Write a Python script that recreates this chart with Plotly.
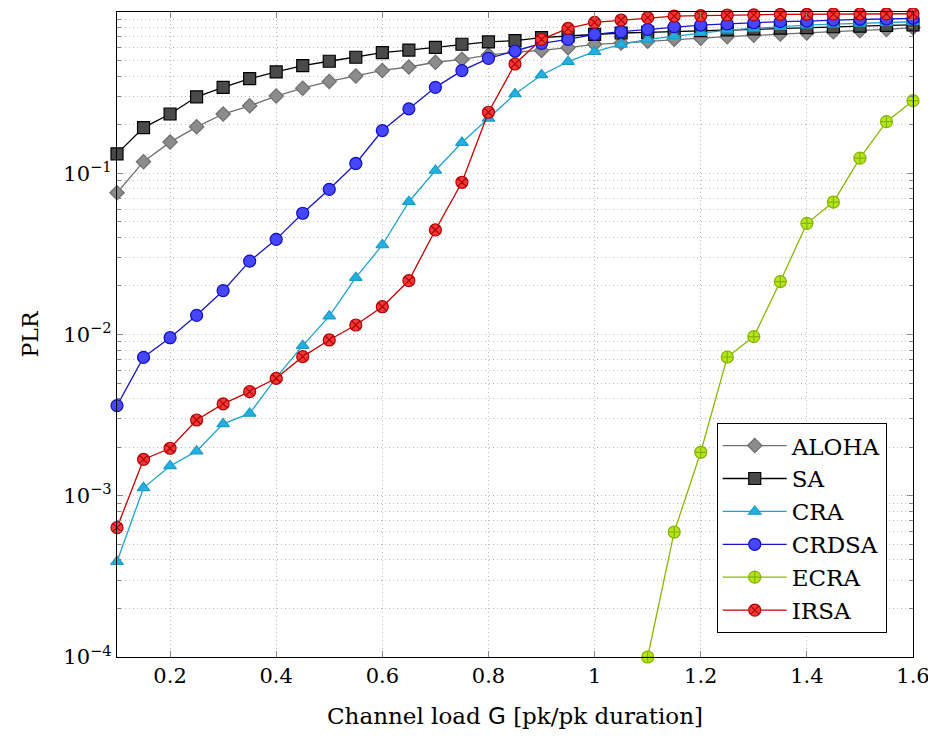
import plotly.graph_objects as go

G = [0.1, 0.15, 0.2, 0.25, 0.3, 0.35, 0.4, 0.45, 0.5, 0.55, 0.6, 0.65, 0.7, 0.75, 0.8,
     0.85, 0.9, 0.95, 1.0, 1.05, 1.1, 1.15, 1.2, 1.25, 1.3, 1.35, 1.4, 1.45, 1.5, 1.55, 1.6]

aloha = [0.0757, 0.118, 0.156, 0.194, 0.233, 0.262, 0.301, 0.337, 0.371, 0.401, 0.434, 0.456,
         0.488, 0.509, 0.541, 0.565, 0.578, 0.601, 0.630, 0.642, 0.658, 0.677, 0.688, 0.703,
         0.718, 0.730, 0.742, 0.755, 0.766, 0.780, 0.800]
sa = [0.132, 0.192, 0.233, 0.298, 0.341, 0.386, 0.425, 0.465, 0.495, 0.524, 0.560, 0.581,
      0.604, 0.631, 0.652, 0.664, 0.693, 0.710, 0.727, 0.741, 0.748, 0.757, 0.766, 0.775,
      0.785, 0.795, 0.801, 0.810, 0.817, 0.825, 0.832]
cra = [0.00039, 0.00112, 0.00153, 0.00189, 0.00279, 0.00324, 0.0054, 0.00853, 0.0130, 0.0225,
       0.0359, 0.0666, 0.104, 0.155, 0.219, 0.310, 0.407, 0.492, 0.567, 0.630, 0.677, 0.710,
       0.744, 0.773, 0.792, 0.811, 0.830, 0.840, 0.850, 0.860, 0.870]
crdsa = [0.00362, 0.00722, 0.00955, 0.01315, 0.0187, 0.0285, 0.0389, 0.0565, 0.0795, 0.115,
         0.184, 0.251, 0.341, 0.433, 0.516, 0.573, 0.639, 0.677, 0.727, 0.755, 0.781, 0.811,
         0.830, 0.843, 0.858, 0.871, 0.879, 0.892, 0.901, 0.905, 0.914]
G_ecra = [1.1, 1.15, 1.2, 1.25, 1.3, 1.35, 1.4, 1.45, 1.5, 1.55, 1.6]
ecra = [0.0001, 0.000596, 0.00186, 0.00725, 0.0097, 0.0213, 0.0489, 0.0663, 0.124, 0.209, 0.282]
irsa = [0.000634, 0.00168, 0.00197, 0.00295, 0.00371, 0.00442, 0.00535, 0.00729, 0.00925,
        0.01145, 0.01487, 0.0216, 0.0445, 0.0879, 0.239, 0.476, 0.677, 0.792, 0.863, 0.892,
        0.922, 0.944, 0.949, 0.958, 0.960, 0.966, 0.968, 0.970, 0.972, 0.974, 0.975]

x_tickvals = [0.2, 0.4, 0.6, 0.8, 1.0, 1.2, 1.4, 1.6]
x_ticktext = ["0.2", "0.4", "0.6", "0.8", "1", "1.2", "1.4", "1.6"]
y_tickvals = [1e-4, 1e-3, 1e-2, 1e-1, 1]
y_ticktext = ["10<sup>−4</sup>", "10<sup>−3</sup>", "10<sup>−2</sup>", "10<sup>−1</sup>", "10<sup>0</sup>"]
y_minorvals = [m * d for d in [1e-4, 1e-3, 1e-2, 1e-1] for m in [2, 3, 4, 5, 6, 7, 8, 9]]

FONT = "DejaVu Serif"

series = [
    ("ALOHA", G, aloha, "diamond", 11, "#8c8c8c", "#6e6e6e", "#707070"),
    ("SA", G, sa, "square", 12, "#4a4a4a", "#000000", "#000000"),
    ("CRA", G, cra, "triangle-up", 11, "#22b0e0", "#1a9cc8", "#1ea3d0"),
    ("CRDSA", G, crdsa, "circle", 12, "#4646ff", "#1010c0", "#1616c8"),
    ("ECRA", G_ecra, ecra, "circle-cross", 12, "#b4e61e", "#86b400", "#8ab800"),
    ("IRSA", G, irsa, "circle-x", 12, "#ee3a3a", "#b80000", "#c80000"),
]

fig = go.Figure()
for name, xs, ys, sym, size, fill, edge, lc in series:
    fig.add_trace(go.Scatter(
        x=xs, y=ys, name=name, mode="lines+markers",
        line=dict(color=lc, width=1.3),
        marker=dict(symbol=sym, size=size, color=fill, line=dict(color=edge, width=1.2)),
        cliponaxis=False,
    ))

grid_col = "#bdbdbd"
grid_dash = "1px,3px"
fig.update_layout(
    width=928, height=731,
    margin=dict(l=109, r=23, t=4, b=82),
    paper_bgcolor="white", plot_bgcolor="white",
    font=dict(family=FONT, size=21, color="black"),
    showlegend=True,
    legend=dict(
        x=0.967, y=0.037, xanchor="right", yanchor="bottom",
        bgcolor="white", bordercolor="black", borderwidth=1,
        font=dict(family=FONT, size=23), itemwidth=64,
        tracegroupgap=0,
    ),
    xaxis=dict(
        range=[0.1, 1.6], tickvals=x_tickvals, ticktext=x_ticktext,
        ticks="inside", ticklen=6, tickcolor="#888", showline=True, linecolor="black", linewidth=1.2,
        mirror="allticks", showgrid=True, gridcolor=grid_col, griddash=grid_dash, gridwidth=1,
        zeroline=False, tickfont=dict(family=FONT, size=21),
        title=dict(text="Channel load <span style='font-family:\"DejaVu Sans\"'>G</span> [pk/pk duration]",
                   font=dict(family=FONT, size=23), standoff=20),
    ),
    yaxis=dict(
        type="log", range=[-4, 0], tickvals=y_tickvals, ticktext=y_ticktext,
        ticks="inside", ticklen=6, tickcolor="#888", showline=True, linecolor="black", linewidth=1.2,
        mirror="allticks", showgrid=True, gridcolor=grid_col, griddash=grid_dash, gridwidth=1,
        zeroline=False, tickfont=dict(family=FONT, size=21),
        minor=dict(tickvals=y_minorvals, ticks="inside", ticklen=4, tickcolor="#888", showgrid=True,
                   gridcolor=grid_col, griddash=grid_dash, gridwidth=1),
        title=dict(text="PLR", font=dict(family=FONT, size=22), standoff=18),
    ),
)

fig.write_html("out.html")
